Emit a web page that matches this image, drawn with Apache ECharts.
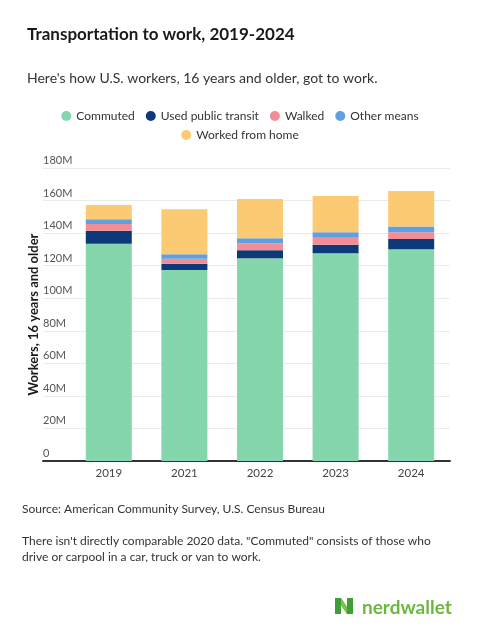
<!DOCTYPE html>
<html>
<head>
<meta charset="utf-8">
<script src="https://cdn.jsdelivr.net/npm/echarts@6/dist/echarts.min.js"></script>
<style>
html,body{margin:0;padding:0;background:#fff;}
#chart{width:480px;height:630px;}
</style>
</head>
<body>
<div id="chart"></div>
<script>
// Data (millions of workers)
const years = ['2019', '2021', '2022', '2023', '2024'];
const commuted = [133.5, 117.3, 124.5, 127.6, 130.1];
const publicTransit = [7.9, 3.9, 4.9, 5.3, 6.3];
const walked = [4.2, 3.1, 4.3, 4.3, 4.2];
const otherMeans = [2.9, 2.7, 3.1, 3.4, 3.4];
const workedFromHome = [8.8, 27.7, 24.2, 22.2, 21.9];
const yTicks = [0, 20, 40, 60, 80, 100, 120, 140, 160, 180];

const FONT = 'Lato, "Open Sans", sans-serif';
const colors = {
  commuted: '#85d6ac',
  transit: '#0c3a78',
  walked: '#f28d96',
  other: '#609fe0',
  home: '#fdca74'
};

const chart = echarts.init(document.getElementById('chart'), null, {renderer: 'canvas'});

const GRID_TOP = 168;
const GRID_BOTTOM = 169;

function barSeries(name, data, color) {
  return {
    name: name,
    type: 'bar',
    stack: 'total',
    xAxisIndex: 1,
    yAxisIndex: 1,
    barWidth: 46,
    data: data,
    itemStyle: {color: color},
    emphasis: {disabled: true}
  };
}

const option = {
  animation: false,
  backgroundColor: '#ffffff',
  textStyle: {fontFamily: FONT},
  title: [
    {
      text: 'Transportation to work, 2019-2024',
      left: 22, top: 21,
      textStyle: {fontFamily: FONT, fontSize: 17, fontWeight: 'bold', color: '#1a1a1a'}
    },
    {
      text: "Here's how U.S. workers, 16 years and older, got to work.",
      left: 22, top: 66,
      textStyle: {fontFamily: FONT, fontSize: 14, fontWeight: 'normal', color: '#333'}
    }
  ],
  legend: [
    {
      data: ['Commuted', 'Used public transit', 'Walked', 'Other means'],
      left: 'center', top: 105,
      icon: 'circle', itemWidth: 10, itemHeight: 10, itemGap: 11,
      textStyle: {fontFamily: FONT, fontSize: 12, color: '#333'},
      selectedMode: false
    },
    {
      data: ['Worked from home'],
      left: 'center', top: 124,
      icon: 'circle', itemWidth: 10, itemHeight: 10,
      textStyle: {fontFamily: FONT, fontSize: 12, color: '#333'},
      selectedMode: false
    }
  ],
  grid: [
    {left: 43, right: 30, top: GRID_TOP, bottom: GRID_BOTTOM},
    {left: 71, right: 31, top: GRID_TOP, bottom: GRID_BOTTOM}
  ],
  xAxis: [
    {
      type: 'value', gridIndex: 0, min: 0, max: 1,
      axisLine: {show: true, onZero: false, lineStyle: {color: '#333', width: 2}},
      axisTick: {show: false}, axisLabel: {show: false}, splitLine: {show: false}
    },
    {
      type: 'category', gridIndex: 1, data: years,
      axisLine: {show: false}, axisTick: {show: false},
      axisLabel: {margin: 6, fontFamily: FONT, fontSize: 11.5, color: '#444'}
    }
  ],
  yAxis: [
    {
      type: 'value', gridIndex: 0, min: 0, max: 180, interval: 20,
      axisLine: {show: false}, axisTick: {show: false},
      splitLine: {lineStyle: {color: '#ebebeb', width: 1}},
      axisLabel: {
        inside: true, margin: 0, align: 'left', verticalAlign: 'bottom',
        padding: [0, 0, 2, 0],
        fontFamily: FONT, fontSize: 11, color: '#555',
        formatter: function (v) { return yTicks.indexOf(v) >= 0 ? (v === 0 ? '0' : v + 'M') : ''; }
      },
      name: 'Workers, 16 years and older',
      nameLocation: 'middle', nameGap: 3, nameRotate: 90,
      nameMoveOverlap: false,
      nameTextStyle: {fontFamily: FONT, fontSize: 13, fontWeight: 'bold', color: '#1a1a1a'}
    },
    {
      type: 'value', gridIndex: 1, min: 0, max: 180, interval: 20, show: false
    }
  ],
  series: [
    barSeries('Commuted', commuted, colors.commuted),
    barSeries('Used public transit', publicTransit, colors.transit),
    barSeries('Walked', walked, colors.walked),
    barSeries('Other means', otherMeans, colors.other),
    barSeries('Worked from home', workedFromHome, colors.home)
  ],
  graphic: [
    {
      type: 'text', left: 22, top: 503,
      style: {text: 'Source: American Community Survey, U.S. Census Bureau', font: '12px ' + FONT, fill: '#333'}
    },
    {
      type: 'text', left: 22, top: 533,
      style: {
        text: 'There isn\'t directly comparable 2020 data. "Commuted" consists of those who\ndrive or carpool in a car, truck or van to work.',
        font: '12px ' + FONT, fill: '#333', lineHeight: 16
      }
    },
    {
      type: 'group', left: 335, top: 598,
      children: [
        {type: 'polygon', shape: {points: [[0, 0], [6, 0], [12, 9], [12, 0], [18, 0], [18, 16], [12, 16], [6, 7], [6, 16], [0, 16]]}, style: {fill: '#3f9e35'}},
        {type: 'polygon', shape: {points: [[6, 0], [12, 9], [12, 16], [6, 7]]}, style: {fill: '#7cc242'}},
        {type: 'text', x: 27, y: 0, style: {text: 'nerdwallet', font: 'bold 19px ' + FONT, fill: '#6cb83f', textVerticalAlign: 'top'}}
      ]
    }
  ]
};

chart.setOption(option);
</script>
</body>
</html>
